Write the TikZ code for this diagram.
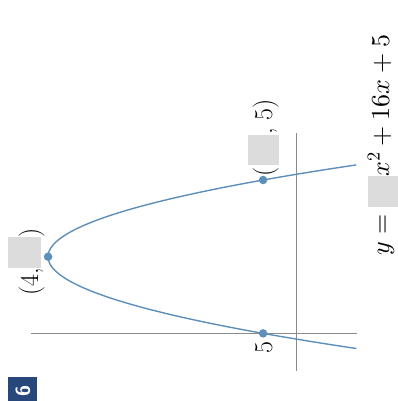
\documentclass[tikz,border=0pt]{standalone}
\DeclareFontShape{OT1}{cmr}{m}{n}{<->cmr10}{}
\DeclareFontShape{OML}{cmm}{m}{it}{<->cmmi10}{}
\DeclareFontShape{OMS}{cmsy}{m}{n}{<->cmsy10}{}
\definecolor{curveblue}{HTML}{5E8FBA}
\definecolor{axisgray}{HTML}{8A8A8A}
\definecolor{boxgray}{HTML}{DCDCDC}
\definecolor{tagblue}{HTML}{28487C}
\newcommand{\gbox}[3]{{\color{boxgray}\rule[-#1pt]{#2pt}{#3pt}}}
\begin{document}
\begin{tikzpicture}[x=1pt,y=-1pt,
  axisline/.style={draw=axisgray,line width=0.9pt},
  curveline/.style={draw=curveblue,line width=1.4pt},
  ptdot/.style={circle,fill=curveblue,inner sep=0pt,minimum size=8.5pt},
  lbl/.style={rotate=90,inner sep=0pt,font=\fontsize{26}{30}\selectfont},
  tag/.style={fill=tagblue,inner sep=0pt}]
\useasboundingbox (0,0) rectangle (397,401);
% axes
\coordinate (ya) at (31,333.3);
\coordinate (yb) at (357,333.3);
\coordinate (xa) at (296.7,133);
\coordinate (xb) at (296.7,371);
\draw[axisline] (ya) -- (yb);
\draw[axisline] (xa) -- (xb);
% parabola y = -2x^2+16x+5
\draw[curveline] plot[domain=-0.79:8.79,samples=120,smooth]
  ({296.7-6.72*(-2*(\x-4)*(\x-4)+37)},{256.7-19.17*(\x-4)});
% points
\node[ptdot] (v) at (48.1,256.7) {};
\node[ptdot] (p0) at (263.1,333.4) {};
\node[ptdot] (p8) at (263.1,180.0) {};
% labels
\node[lbl,anchor=base west] (lv) at (38,296) {(4,\gbox{3}{31}{33})};
\node[lbl,anchor=base west] (lp) at (272,177) {(\hspace{3pt}\gbox{7}{30}{31}, 5)};
\node[lbl,anchor=base] (l5) at (272,347.5) {5};
\node[lbl,anchor=base west] (eq) at (389,256) {$y = \gbox{8.5}{31}{30}x^2 + 16x + 5$};
% tag
\node[tag,minimum width=29pt,minimum height=24pt] (tg) at (22.5,389) {};
\node[rotate=90,text=white,font=\sffamily\bfseries\fontsize{20}{24}\selectfont,inner sep=0pt] (tgt) at (23,391) {6};
\end{tikzpicture}
\end{document}
